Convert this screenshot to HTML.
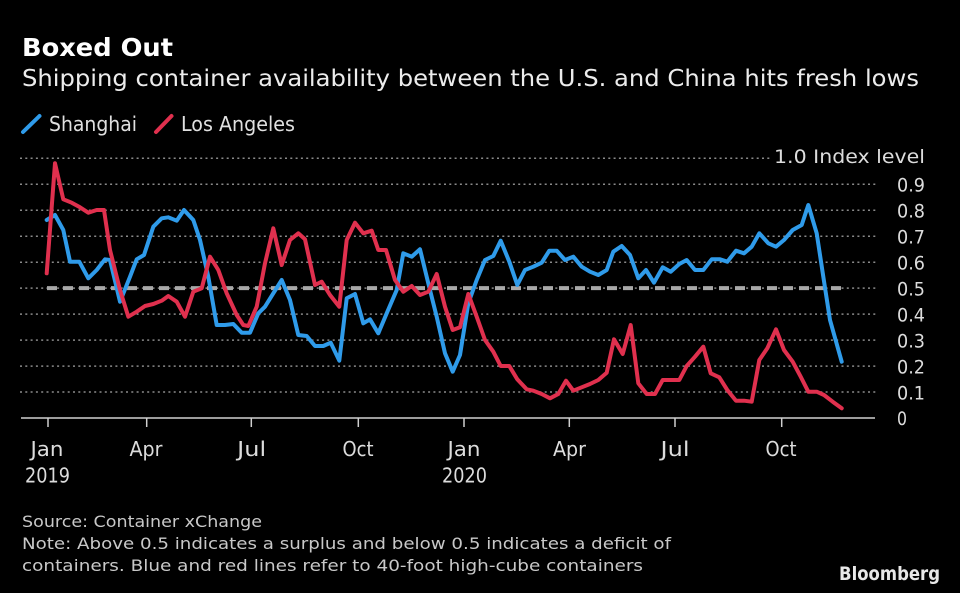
<!DOCTYPE html>
<html><head><meta charset="utf-8"><style>
html,body{margin:0;padding:0;background:#000;}
svg{display:block;}
text{font-family:"DejaVu Sans","Liberation Sans",sans-serif;}
</style></head><body>
<svg width="960" height="593" viewBox="0 0 960 593" xmlns="http://www.w3.org/2000/svg">
<rect width="960" height="593" fill="#000"/>
<text x="22" y="56" font-size="25" font-weight="bold" fill="#fff" textLength="151" lengthAdjust="spacingAndGlyphs">Boxed Out</text>
<text x="22" y="86" font-size="23" fill="#ececec" textLength="897" lengthAdjust="spacingAndGlyphs">Shipping container availability between the U.S. and China hits fresh lows</text>
<line x1="23" y1="132" x2="39.5" y2="116" stroke="#2f9bea" stroke-width="4" stroke-linecap="round"/>
<text x="49" y="131" font-size="20" fill="#e0e0e0" textLength="88" lengthAdjust="spacingAndGlyphs">Shanghai</text>
<line x1="156" y1="132" x2="171.5" y2="116" stroke="#e0304e" stroke-width="4" stroke-linecap="round"/>
<text x="181" y="131" font-size="20" fill="#e0e0e0" textLength="114" lengthAdjust="spacingAndGlyphs">Los Angeles</text>
<g stroke="#8a8a8a" stroke-width="1.5" stroke-dasharray="2 3.3">
<line x1="20" y1="158.3" x2="770" y2="158.3"/>
<line x1="20" y1="184.3" x2="878" y2="184.3"/>
<line x1="20" y1="210.2" x2="878" y2="210.2"/>
<line x1="20" y1="236.2" x2="878" y2="236.2"/>
<line x1="20" y1="262.2" x2="878" y2="262.2"/>
<line x1="20" y1="288.1" x2="878" y2="288.1"/>
<line x1="20" y1="314.1" x2="878" y2="314.1"/>
<line x1="20" y1="340.1" x2="878" y2="340.1"/>
<line x1="20" y1="366.1" x2="878" y2="366.1"/>
<line x1="20" y1="392.0" x2="878" y2="392.0"/>
</g>
<line x1="21" y1="418" x2="875" y2="418" stroke="#cfcfcf" stroke-width="1.5"/>
<g stroke="#cfcfcf" stroke-width="1.5">
<line x1="48" y1="418" x2="48" y2="427"/>
<line x1="146.7" y1="418" x2="146.7" y2="427"/>
<line x1="251.3" y1="418" x2="251.3" y2="427"/>
<line x1="358.3" y1="418" x2="358.3" y2="427"/>
<line x1="464" y1="418" x2="464" y2="427"/>
<line x1="569.3" y1="418" x2="569.3" y2="427"/>
<line x1="675" y1="418" x2="675" y2="427"/>
<line x1="781.7" y1="418" x2="781.7" y2="427"/>
</g>
<g font-size="19" fill="#dcdcdc" text-anchor="end">
<text x="925" y="163" textLength="151" lengthAdjust="spacingAndGlyphs">1.0  Index level</text>
<text x="925" y="191.5" textLength="28" lengthAdjust="spacingAndGlyphs">0.9</text>
<text x="925" y="217.5" textLength="28" lengthAdjust="spacingAndGlyphs">0.8</text>
<text x="925" y="243.5" textLength="28" lengthAdjust="spacingAndGlyphs">0.7</text>
<text x="925" y="269.5" textLength="28" lengthAdjust="spacingAndGlyphs">0.6</text>
<text x="925" y="295.5" textLength="28" lengthAdjust="spacingAndGlyphs">0.5</text>
<text x="925" y="321.5" textLength="28" lengthAdjust="spacingAndGlyphs">0.4</text>
<text x="925" y="347.5" textLength="28" lengthAdjust="spacingAndGlyphs">0.3</text>
<text x="925" y="373.5" textLength="28" lengthAdjust="spacingAndGlyphs">0.2</text>
<text x="925" y="399.5" textLength="28" lengthAdjust="spacingAndGlyphs">0.1</text>
<text x="907" y="425" textLength="10" lengthAdjust="spacingAndGlyphs">0</text>
</g>
<g font-size="20" fill="#dcdcdc" text-anchor="middle">
<text x="47" y="456" textLength="33" lengthAdjust="spacingAndGlyphs">Jan</text>
<text x="47.5" y="482.5" textLength="45" lengthAdjust="spacingAndGlyphs">2019</text>
<text x="146" y="456" textLength="33" lengthAdjust="spacingAndGlyphs">Apr</text>
<text x="251.7" y="456" textLength="29" lengthAdjust="spacingAndGlyphs">Jul</text>
<text x="358" y="456" textLength="31" lengthAdjust="spacingAndGlyphs">Oct</text>
<text x="464" y="456" textLength="33" lengthAdjust="spacingAndGlyphs">Jan</text>
<text x="464.5" y="482.5" textLength="45" lengthAdjust="spacingAndGlyphs">2020</text>
<text x="569.5" y="456" textLength="33" lengthAdjust="spacingAndGlyphs">Apr</text>
<text x="675" y="456" textLength="29" lengthAdjust="spacingAndGlyphs">Jul</text>
<text x="781" y="456" textLength="31" lengthAdjust="spacingAndGlyphs">Oct</text>
</g>
<line x1="47" y1="288.1" x2="842" y2="288.1" stroke="#a8a8a8" stroke-width="4" stroke-dasharray="10 6"/>
<polyline fill="none" stroke="#2f9bea" stroke-width="4" stroke-linejoin="round" stroke-linecap="round" points="46.7,220 55,215 63.3,230 70,261.7 79.3,261.7 88.3,278.3 96.7,270 105,259.3 110,260 120,301.7 130,276.7 136.7,259.3 144,255 153.3,226.7 161.7,218.3 168.3,217.3 176.7,220.7 184,210 193.3,220 200,240 208.3,276.7 216.7,325 225,325 233.3,324 241.7,332.7 250,332.7 258.3,313.3 265,306.7 273.3,293.3 281.7,280 290,300 298.3,335 306.7,336 315,346 323.3,346 330.7,342.7 339.3,360.7 346.7,298.3 355,294 363.3,323.3 370,319.3 378.3,333.3 386.7,313.3 396.7,290 403.3,253.3 411.7,256.7 420,249.3 428.3,283.3 436.7,316.7 445,353.3 452.7,371.7 460,355 468.3,303.3 476.7,280 485,260 493.3,256 500.7,240.7 509.3,261.7 517.3,285 525,270 533.3,266.7 541.7,262.7 549.3,250.7 556.7,250.7 565,260 573.3,256.7 581.7,266.7 590,271.7 598.3,275 606.7,270 613.3,251.7 621.7,246 630,255 638.3,278.3 646,270 654,282.7 662.7,267.3 670.7,271.7 679.3,264 686.7,260 695,270 703.3,270 711.7,259.3 720,259.3 727.3,261.7 736,250.7 744,253.3 751.7,246.7 759.3,233.3 768.3,243.3 776,246.7 784,240 792.7,230 801.7,225 808.3,205 816.7,233.3 823.3,276.7 830,320 841.7,361.7"/>
<polyline fill="none" stroke="#e0304e" stroke-width="4" stroke-linejoin="round" stroke-linecap="round" points="46.7,273.3 55,163.3 63.3,199.3 71.7,202.7 80,207.3 88.3,212.7 96.7,210 104,210 110,250 120,290 128.3,316.7 136.7,311.7 145,306 153.3,304 161.7,300.7 168.3,296 176.7,301.7 185,316.7 193.3,291.7 201.7,288.3 210,256.7 218.3,270 226.7,293.3 236.7,315 243.3,325 248.3,326 256.7,306.7 265,263.3 273.3,228.3 281.7,265 290,240 298.3,233.3 305,239.3 315,285 321.7,281.7 330,295 339.3,306.7 346.7,240 355,222.7 363.3,233.3 371.7,230.7 378.3,250 386,250 395,280 403.3,291.7 411.7,286 420,295 428.3,291.7 436.7,274 445,306.7 452.7,330 460,327.3 468.3,294 476.7,316.7 485,340 493.3,351.7 500.7,366 509.3,366 517.3,379.3 526.7,389.3 533.3,390.7 541.7,394 550,398.3 558.3,394 566,380.7 573.3,390.7 581.7,387.3 590,384 598.3,380 606.7,372.7 614,339.3 622.7,354 630.7,325 638.3,383.3 646.7,394 655,394 662.7,380 670.7,380 679.3,380 686.7,366 695,356.7 703.3,346.7 710.7,373.3 719.3,377.3 727.3,390 736,400.7 744,400.7 751.7,401.7 759.3,360 767.3,348.3 776,329.3 784,350 792.7,361.7 800.7,376.7 808.3,391.7 816.7,391.7 824,395 832.7,401.7 841.7,408.3"/>
<g font-size="16" fill="#c8c8c8">
<text x="22" y="527" textLength="240" lengthAdjust="spacingAndGlyphs">Source: Container xChange</text>
<text x="22" y="549" textLength="649" lengthAdjust="spacingAndGlyphs">Note: Above 0.5 indicates a surplus and below 0.5 indicates a deficit of</text>
<text x="22" y="571" textLength="621" lengthAdjust="spacingAndGlyphs">containers. Blue and red lines refer to 40-foot high-cube containers</text>
</g>
<text x="839" y="580" font-family="Liberation Sans, sans-serif" font-size="19" font-weight="bold" fill="#e8e8e8" textLength="101" lengthAdjust="spacingAndGlyphs">Bloomberg</text>
</svg>
</body></html>
